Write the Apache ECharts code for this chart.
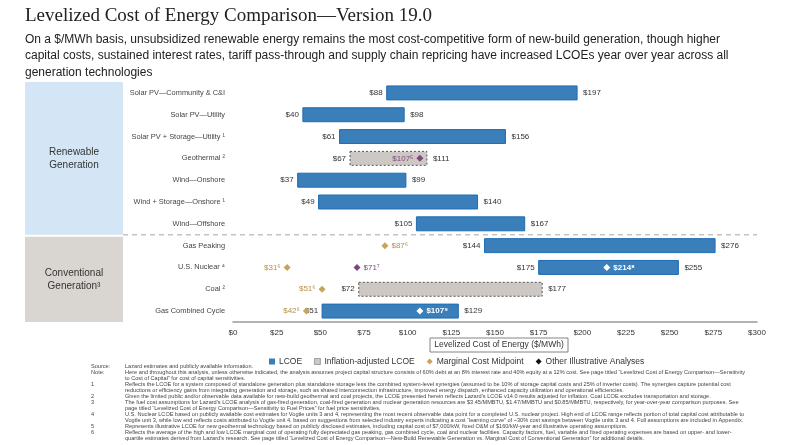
<!DOCTYPE html>
<html>
<head>
<meta charset="utf-8">
<script src="https://cdn.jsdelivr.net/npm/echarts@6/dist/echarts.min.js"></script>
<style>
  html, body { margin: 0; padding: 0; background: #fff; }
  #chart { width: 800px; height: 445px; }
</style>
</head>
<body>
<div id="chart"></div>
<script>
// 行（从上到下）
const categories = ['Solar PV—Community & C&I', 'Solar PV—Utility', 'Solar PV + Storage—Utility', 'Geothermal',
    'Wind—Onshore', 'Wind + Storage—Onshore', 'Wind—Offshore', 'Gas Peaking', 'U.S. Nuclear', 'Coal', 'Gas Combined Cycle'];
const categoryNotes = ['', '', '1', '2', '', '1', '', '', '4', '2', ''];
// LCOE 区间
const lcoeLow = [88, 40, 61, null, 37, 49, 105, 144, 175, null, 51];
const lcoeHigh = [197, 98, 156, null, 99, 140, 167, 276, 255, null, 129];
// 通胀调整 LCOE
const inflLow = [null, null, null, 67, null, null, null, null, null, 72, null];
const inflHigh = [null, null, null, 111, null, null, null, null, null, 177, null];
// 边际成本中点
const marginal = [null, null, null, null, null, null, null, 87, 31, 51, 42];
const marginalNote = '6';
// 其他示意性分析
const otherRows = [3, 8, 8, 10];
const otherValues = [107, 71, 214, 107];
const otherNotes = ['5', '7', '8', '9'];
// x 轴刻度
const xTicks = [0, 25, 50, 75, 100, 125, 150, 175, 200, 225, 250, 275, 300];

const groups = [
    { name: 'Renewable\nGeneration', from: 0, to: 7, color: '#d4e5f5' },
    { name: 'Conventional\nGeneration³', from: 7, to: 11, color: '#d9d6d1' }
];

const footLabels = ['Source:', 'Note:', '', '1', '', '2', '3', '', '4', '', '5', '6', ''];
const footTexts = [
    'Lazard estimates and publicly available information.',
    'Here and throughout this analysis, unless otherwise indicated, the analysis assumes project capital structure consists of 60% debt at an 8% interest rate and 40% equity at a 12% cost. See page titled “Levelized Cost of Energy Comparison—Sensitivity',
    'to Cost of Capital” for cost of capital sensitivities.',
    'Reflects the LCOE for a system composed of standalone generation plus standalone storage less the combined system-level synergies (assumed to be 10% of storage capital costs and 25% of inverter costs). The synergies capture potential cost',
    'reductions or efficiency gains from integrating generation and storage, such as shared interconnection infrastructure, improved energy dispatch, enhanced capacity utilization and operational efficiencies.',
    'Given the limited public and/or observable data available for new-build geothermal and coal projects, the LCOE presented herein reflects Lazard’s LCOE v14.0 results adjusted for inflation. Coal LCOE excludes transportation and storage.',
    'The fuel cost assumptions for Lazard’s LCOE analysis of gas-fired generation, coal-fired generation and nuclear generation resources are $3.45/MMBTU, $1.47/MMBTU and $0.85/MMBTU, respectively, for year-over-year comparison purposes. See',
    'page titled “Levelized Cost of Energy Comparison—Sensitivity to Fuel Prices” for fuel price sensitivities.',
    'U.S. Nuclear LCOE based on publicly available cost estimates for Vogtle units 3 and 4, representing the most recent observable data point for a completed U.S. nuclear project. High end of LCOE range reflects portion of total capital cost attributable to',
    'Vogtle unit 3, while low end reflects costs attributed to Vogtle unit 4, based on suggestions from selected industry experts indicating a cost “learning curve” of ~30% cost savings between Vogtle units 3 and 4. Full assumptions are included in Appendix.',
    'Represents illustrative LCOE for new geothermal technology based on publicly disclosed estimates, including capital cost of $7,000/kW, fixed O&M of $160/kW-year and illustrative operating assumptions.',
    'Reflects the average of the high and low LCOE marginal cost of operating fully depreciated gas peaking, gas combined cycle, coal and nuclear facilities. Capacity factors, fuel, variable and fixed operating expenses are based on upper- and lower-',
    'quartile estimates derived from Lazard’s research. See page titled “Levelized Cost of Energy Comparison—New-Build Renewable Generation vs. Marginal Cost of Conventional Generation” for additional details.'
];

const FONT = '"Liberation Sans", Arial, sans-serif';
const BLUE = '#3a7eba';
const GOLD = '#c9a35a';
const PURPLE = '#7a4a7c';
const grid = { left: 233, right: 43, top: 82, bottom: 123 };
const rowH = (445 - grid.top - grid.bottom) / categories.length;

// 上标
function sup(s) {
    const map = { '0': '⁰', '1': '¹', '2': '²', '3': '³', '4': '⁴', '5': '⁵', '6': '⁶', '7': '⁷', '8': '⁸', '9': '⁹' };
    return s.split('').map(c => map[c] || c).join('');
}

function toRange(low, high) {
    let arr = [];
    for (let i = 0; i < low.length; i++) {
        if (low[i] != null) arr.push([low[i], high[i], i]);
    }
    return arr;
}

function rangeItem(fill, stroke, dash) {
    return function (params, api) {
        const low = api.value(0), high = api.value(1), row = api.value(2);
        const p0 = api.coord([low, row]);
        const p1 = api.coord([high, row]);
        const h = api.size([0, 1])[1] * 0.64;
        return {
            type: 'group',
            children: [
                {
                    type: 'rect',
                    shape: { x: p0[0], y: p0[1] - h / 2, width: p1[0] - p0[0], height: h },
                    style: { fill: fill, stroke: stroke, lineWidth: 1, lineDash: dash }
                },
                {
                    type: 'text',
                    style: { text: '$' + low, x: p0[0] - 4, y: p0[1], align: 'right', verticalAlign: 'middle',
                        fill: '#333', font: '8px ' + FONT }
                },
                {
                    type: 'text',
                    style: { text: '$' + high, x: p1[0] + 6, y: p1[1], align: 'left', verticalAlign: 'middle',
                        fill: '#333', font: '8px ' + FONT }
                }
            ]
        };
    };
}

// 边际成本点：右侧空间够就放右边
function marginalData() {
    let arr = [];
    for (let i = 0; i < marginal.length; i++) {
        const v = marginal[i];
        if (v == null) continue;
        let next = [lcoeLow[i], inflLow[i]];
        otherRows.forEach((r, k) => { if (r === i) next.push(otherValues[k]); });
        next = next.filter(n => n != null && n > v);
        const gap = next.length ? Math.min(...next) - v : 999;
        arr.push({
            value: [v, i],
            label: { position: gap > 45 ? 'right' : 'left' }
        });
    }
    return arr;
}

function otherData() {
    return otherValues.map((v, k) => {
        const r = otherRows[k];
        const inBar = lcoeLow[r] != null && v > lcoeLow[r] && v < lcoeHigh[r];
        const inBox = inflLow[r] != null && v > inflLow[r] && v < inflHigh[r];
        return {
            value: [v, r],
            note: otherNotes[k],
            itemStyle: { color: inBar ? '#fff' : PURPLE },
            label: {
                position: inBox ? 'left' : 'right',
                color: inBar ? '#fff' : PURPLE,
                fontWeight: inBar ? 'bold' : 'normal'
            }
        };
    });
}

var chartDom = document.getElementById('chart');
var myChart = echarts.init(chartDom);
var option;

let graphics = [
    {
        type: 'text', left: 25, top: 7,
        style: { text: 'Levelized Cost of Energy Comparison—Version 19.0', fill: '#222', font: '19px "Liberation Serif", "Times New Roman", serif' }
    },
    {
        type: 'text', left: 25, top: 31,
        style: {
            text: 'On a $/MWh basis, unsubsidized renewable energy remains the most cost-competitive form of new-build generation, though higher\ncapital costs, sustained interest rates, tariff pass-through and supply chain repricing have increased LCOEs year over year across all\ngeneration technologies',
            fill: '#222', font: '12px ' + FONT, lineHeight: 16.5
        }
    },
    // 分隔虚线
    {
        type: 'line', z: 0,
        shape: { x1: 123, y1: grid.top + 7 * rowH, x2: 800 - grid.right, y2: grid.top + 7 * rowH },
        style: { stroke: '#c4c4c4', lineWidth: 1.5, lineDash: [5, 4] }
    },
    // x 轴名称框
    {
        type: 'rect', shape: { x: 430, y: 338, width: 138, height: 14 },
        style: { fill: '#fff', stroke: '#666', lineWidth: 0.8 }
    },
    {
        type: 'text', x: 499, y: 345,
        style: { text: 'Levelized Cost of Energy ($/MWh)', align: 'center', verticalAlign: 'middle', fill: '#333', font: '8.5px ' + FONT }
    }
];
groups.forEach(g => {
    const y0 = grid.top + g.from * rowH + (g.from ? 2 : 0);
    const y1 = grid.top + g.to * rowH;
    graphics.push({
        type: 'rect', z: 0, shape: { x: 25, y: y0, width: 98, height: y1 - y0 },
        style: { fill: g.color }
    });
    graphics.push({
        type: 'text', x: 74, y: (y0 + y1) / 2,
        style: { text: g.name, align: 'center', verticalAlign: 'middle', fill: '#333', font: '10px ' + FONT, lineHeight: 13 }
    });
});
footTexts.forEach((t, i) => {
    const y = 366 + i * 6.05;
    if (footLabels[i]) {
        graphics.push({ type: 'text', x: 91, y: y, style: { text: footLabels[i], verticalAlign: 'middle', fill: '#444', font: '5.6px ' + FONT } });
    }
    graphics.push({ type: 'text', x: 125, y: y, style: { text: t, verticalAlign: 'middle', fill: '#444', font: '5.6px ' + FONT } });
});

option = {
    animation: false,
    textStyle: { fontFamily: FONT },
    grid: { left: grid.left, right: grid.right, top: grid.top, bottom: grid.bottom },
    legend: {
        left: 264, top: 352,
        itemWidth: 6, itemHeight: 6, itemGap: 12,
        selectedMode: false,
        textStyle: { fontSize: 8.5, color: '#333', padding: [0, 0, 0, -1] },
        data: [
            { name: 'LCOE', icon: 'rect', itemStyle: { color: BLUE } },
            { name: 'Inflation-adjusted LCOE', icon: 'rect', itemStyle: { color: '#cdc8c3', borderColor: '#777', borderWidth: 0.6 } },
            { name: 'Marginal Cost Midpoint', icon: 'diamond', itemStyle: { color: GOLD } },
            { name: 'Other Illustrative Analyses', icon: 'diamond', itemStyle: { color: '#111' } }
        ]
    },
    xAxis: {
        type: 'value', min: 0, max: 300, interval: 25,
        axisLine: { show: true, lineStyle: { color: '#9a9a9a', width: 1.5 } },
        axisTick: { show: false },
        splitLine: { show: false },
        axisLabel: {
            margin: 7, fontSize: 8, color: '#333',
            formatter: v => xTicks.indexOf(v) >= 0 ? '$' + v : ''
        }
    },
    yAxis: {
        type: 'category', data: categories, inverse: true,
        axisLine: { show: false }, axisTick: { show: false },
        axisLabel: {
            margin: 8, fontSize: 7.4, color: '#444',
            formatter: (v, i) => categoryNotes[i] ? v + ' ' + sup(categoryNotes[i]) : v
        }
    },
    series: [
        {
            name: 'LCOE', type: 'custom',
            encode: { x: [0, 1], y: 2 },
            renderItem: rangeItem(BLUE, '#1f6db3', null),
            data: toRange(lcoeLow, lcoeHigh)
        },
        {
            name: 'Inflation-adjusted LCOE', type: 'custom',
            encode: { x: [0, 1], y: 2 },
            renderItem: rangeItem('#cdc8c3', '#555', [2, 2]),
            data: toRange(inflLow, inflHigh)
        },
        {
            name: 'Marginal Cost Midpoint', type: 'scatter', z: 5,
            symbol: 'diamond', symbolSize: 7,
            itemStyle: { color: GOLD, opacity: 1 },
            label: {
                show: true, distance: 3, fontSize: 8, color: '#b8904a',
                formatter: p => '$' + p.value[0] + sup(marginalNote)
            },
            data: marginalData()
        },
        {
            name: 'Other Illustrative Analyses', type: 'scatter', z: 6,
            symbol: 'diamond', symbolSize: 7,
            itemStyle: { opacity: 1 },
            label: {
                show: true, distance: 3, fontSize: 8,
                formatter: p => '$' + p.value[0] + sup(p.data.note)
            },
            data: otherData()
        }
    ],
    graphic: graphics
};

option && myChart.setOption(option);
</script>
</body>
</html>
